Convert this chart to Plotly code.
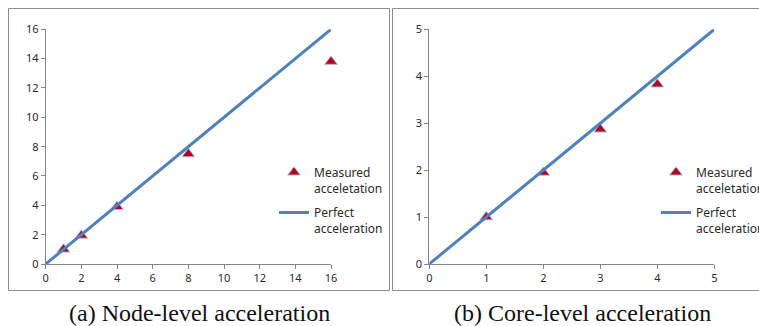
import plotly.graph_objects as go

W, H = 759, 326

# Node-level
node_x = [1, 2, 4, 8, 16]
node_meas = [1.0, 1.95, 3.9, 7.5, 13.8]
node_perf_x = [0, 16]
node_perf_y = [0, 16]
node_ticks = [0, 2, 4, 6, 8, 10, 12, 14, 16]

# Core-level
core_x = [1, 2, 3, 4]
core_meas = [1.0, 1.95, 2.87, 3.83]
core_perf_x = [0, 5]
core_perf_y = [0, 5]
core_ticks = [0, 1, 2, 3, 4, 5]

legend_names = ["Measured<br>acceletation", "Perfect<br>acceleration"]
captions = ["(a) Node-level acceleration", "(b) Core-level acceleration"]

LINE_C = "#4F81BD"
MARK_C = "#B5001F"
AX_C = "#868686"
TXT_C = "#2A2A2A"

def px(x):
    return x / W

def py(y):
    return 1 - y / H

fig = go.Figure()

marker = dict(symbol="triangle-up", size=11, color=MARK_C,
              line=dict(color="#A9BCD9", width=1))

fig.add_trace(go.Scatter(x=node_x, y=node_meas, mode="markers", marker=marker,
                         name=legend_names[0], xaxis="x", yaxis="y", legend="legend",
                         legendgroup="m1", cliponaxis=False))
fig.add_trace(go.Scatter(x=node_perf_x, y=node_perf_y, mode="lines",
                         line=dict(color=LINE_C, width=3),
                         name=legend_names[1], xaxis="x", yaxis="y", legend="legend",
                         legendgroup="p1", cliponaxis=False))
fig.add_trace(go.Scatter(x=core_x, y=core_meas, mode="markers", marker=marker,
                         name=legend_names[0], xaxis="x2", yaxis="y2", legend="legend2",
                         legendgroup="m2", cliponaxis=False))
fig.add_trace(go.Scatter(x=core_perf_x, y=core_perf_y, mode="lines",
                         line=dict(color=LINE_C, width=3),
                         name=legend_names[1], xaxis="x2", yaxis="y2", legend="legend2",
                         legendgroup="p2", cliponaxis=False))

tickfont = dict(family="Noto Sans, Open Sans, sans-serif", size=11, color=TXT_C)
axcommon = dict(showgrid=False, zeroline=False, showline=True, linecolor=AX_C,
                linewidth=1, ticks="outside", ticklen=4, tickcolor=AX_C,
                tickfont=tickfont, fixedrange=True, automargin=False)

legfont = dict(family="Noto Sans, Open Sans, sans-serif", size=12, color=TXT_C)
ydom = [py(264), py(29.3)]
fig.update_layout(
    width=W, height=H,
    margin=dict(l=0, r=0, t=0, b=0, autoexpand=False),
    paper_bgcolor="white", plot_bgcolor="white",
    xaxis=dict(domain=[px(45.7), px(331)], range=[0, 16], tickvals=node_ticks,
               anchor="y", **axcommon),
    yaxis=dict(domain=ydom, range=[0, 16], tickvals=node_ticks, anchor="x", **axcommon),
    xaxis2=dict(domain=[px(429.3), px(714.3)], range=[0, 5], tickvals=core_ticks,
                anchor="y2", **axcommon),
    yaxis2=dict(domain=ydom, range=[0, 5], tickvals=core_ticks, anchor="x2", **axcommon),
    legend=dict(x=px(274), y=py(158), xanchor="left", yanchor="top", font=legfont,
                bgcolor="rgba(0,0,0,0)", valign="top", tracegroupgap=6),
    legend2=dict(x=px(656), y=py(158), xanchor="left", yanchor="top", font=legfont,
                 bgcolor="rgba(0,0,0,0)", valign="top", tracegroupgap=6),
    showlegend=True,
)

frame = dict(color="#8C8C8C", width=1)
fig.add_shape(type="rect", xref="paper", yref="paper",
              x0=px(8.5), x1=px(389.5), y0=py(290.5), y1=py(8.5), line=frame)
fig.add_shape(type="rect", xref="paper", yref="paper",
              x0=px(392.5), x1=px(765), y0=py(290.5), y1=py(8.5), line=frame)

capfont = dict(family="Liberation Serif, DejaVu Serif, serif", size=24, color="#111111")
fig.add_annotation(text=captions[0], xref="paper", yref="paper", x=px(199), y=py(313),
                   showarrow=False, font=capfont, xanchor="center", yanchor="middle")
fig.add_annotation(text=captions[1], xref="paper", yref="paper", x=px(582), y=py(313),
                   showarrow=False, font=capfont, xanchor="center", yanchor="middle")

fig.write_html("out.html", config={"displayModeBar": False},
               post_script="document.body.style.margin='0';document.body.style.overflow='hidden';")
